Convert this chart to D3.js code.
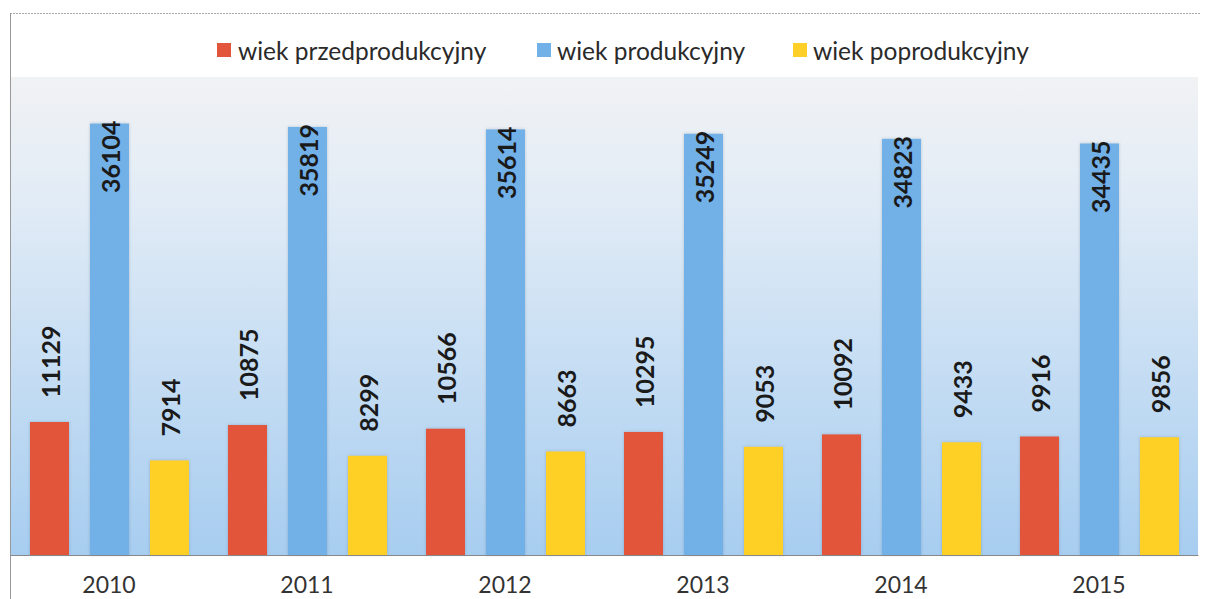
<!DOCTYPE html>
<html><head><meta charset="utf-8">
<script src="https://cdn.jsdelivr.net/npm/d3@7/dist/d3.min.js"></script>
<style>
html,body{margin:0;padding:0;background:#fff;}
svg{display:block;}
</style></head>
<body>
<script>
const years = ["2010","2011","2012","2013","2014","2015"];
const seriesNames = ["wiek przedprodukcyjny","wiek produkcyjny","wiek poprodukcyjny"];
const przed = [11129,10875,10566,10295,10092,9916];
const prod = [36104,35819,35614,35249,34823,34435];
const po = [7914,8299,8663,9053,9433,9856];
const colors = ["#e2553a","#72b0e8","#fed027"];

const W=1214,H=599;
const svg=d3.select("body").append("svg").attr("width",W).attr("height",H);
const font="Lato, 'Open Sans', sans-serif";

const plot={left:10,right:1198,top:77,bottom:555};

const defs=svg.append("defs");
const g=defs.append("linearGradient").attr("id","bg").attr("x1",0).attr("y1",0).attr("x2",0).attr("y2",1);
g.append("stop").attr("offset","0%").attr("stop-color","#f1f2f4");
g.append("stop").attr("offset","25%").attr("stop-color","#e2ecf6");
g.append("stop").attr("offset","100%").attr("stop-color","#a7cdf0");
const f=defs.append("filter").attr("id","sh").attr("x","-20%").attr("y","-5%").attr("width","140%").attr("height","110%");
f.append("feDropShadow").attr("dx",0).attr("dy",0).attr("stdDeviation",1.5).attr("flood-color","#345").attr("flood-opacity",0.25);

// frame
svg.append("line").attr("x1",10).attr("x2",1200).attr("y1",13.5).attr("y2",13.5).attr("stroke","#aaa").attr("stroke-dasharray","2,1");
svg.append("line").attr("x1",10.5).attr("x2",10.5).attr("y1",13).attr("y2",H).attr("stroke","#999");

svg.append("rect").attr("x",plot.left+1).attr("y",plot.top).attr("width",plot.right-plot.left-1).attr("height",plot.bottom-plot.top).attr("fill","url(#bg)");

const x0=d3.scaleBand().domain(years).range([plot.left,plot.right]).paddingInner(0).paddingOuter(0);
const x1=d3.scaleBand().domain(seriesNames).range([20,x0.bandwidth()-19]).paddingInner(0.35).paddingOuter(0);
const y=d3.scaleLinear().domain([0,40000]).range([plot.bottom,plot.top]);

const data=years.map((yr,i)=>({year:yr,vals:[przed[i],prod[i],po[i]]}));

const grp=svg.append("g").selectAll("g").data(data).join("g").attr("transform",d=>`translate(${x0(d.year)},0)`);
grp.selectAll("rect").data(d=>d.vals.map((v,k)=>({v,k}))).join("rect")
 .attr("x",d=>x1(seriesNames[d.k])).attr("width",x1.bandwidth())
 .attr("y",d=>y(d.v)).attr("height",d=>y(0)-y(d.v))
 .attr("fill",d=>colors[d.k]).attr("filter","url(#sh)");

grp.selectAll("text").data(d=>d.vals.map((v,k)=>({v,k}))).join("text")
 .attr("transform",d=>{
   const cx=x1(seriesNames[d.k])+x1.bandwidth()/2;
   const inside=d.v>30000;
   const ty=inside? y(d.v)-3 : y(d.v)-24;
   return `translate(${cx},${ty}) rotate(-90)`;
 })
 .attr("text-anchor",d=>d.v>30000?"end":"start")
 .attr("dominant-baseline","central")
 .attr("font-family",font).attr("font-weight","bold").attr("font-size",25)
 .attr("fill","#1a1a1a")
 .text(d=>d.v);

// axis
const ax=svg.append("g").attr("transform",`translate(0,${plot.bottom})`).call(d3.axisBottom(x0).tickSize(0));
ax.select(".domain").attr("stroke","#888").attr("stroke-width",1.2);
ax.selectAll("text").attr("y",38).attr("dy",0).attr("font-family",font).attr("font-size",23).attr("fill","#333");

// legend
const leg=[{x:217,tx:238},{x:537,tx:557},{x:793,tx:813}];
const lg=svg.append("g");
seriesNames.forEach((n,i)=>{
  lg.append("rect").attr("x",leg[i].x).attr("y",43).attr("width",14).attr("height",14).attr("fill",colors[i]);
  lg.append("text").attr("x",leg[i].tx).attr("y",50).attr("dominant-baseline","central")
   .attr("font-family",font).attr("font-size",24.5).attr("fill","#2a2a2a").text(n);
});
</script>
</body></html>
